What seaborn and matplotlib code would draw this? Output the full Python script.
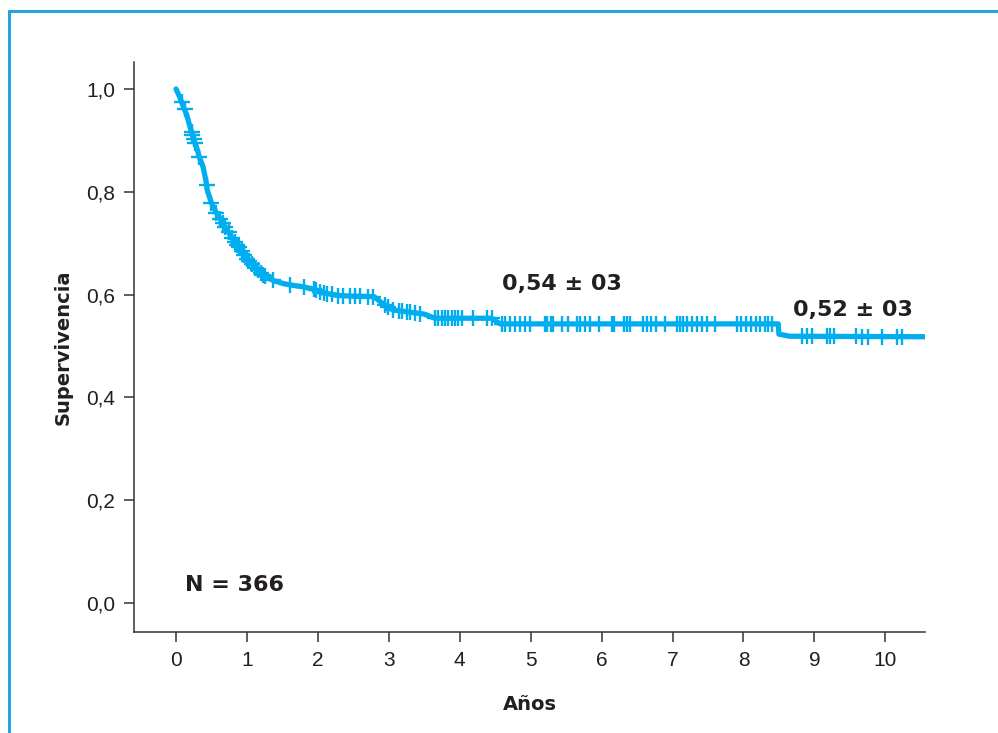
import numpy as np
import pandas as pd
import seaborn as sns
import matplotlib.pyplot as plt
from matplotlib.lines import Line2D

# survival curve (years, survival)
years = [0.00, 0.05, 0.10, 0.15, 0.20, 0.25, 0.30, 0.33, 0.38, 0.42, 0.44,
         0.50, 0.55, 0.60, 0.70, 0.80, 0.90, 1.00, 1.10, 1.20, 1.30, 1.40,
         1.50, 1.60, 1.80, 1.95, 2.05, 2.30, 2.50, 2.79, 2.92, 3.06, 3.40,
         3.50, 3.65, 4.45, 4.57, 8.49, 8.50, 8.65, 10.58]
survival = [1.000, 0.985, 0.967, 0.950, 0.925, 0.902, 0.882, 0.867, 0.849, 0.823, 0.803,
            0.778, 0.764, 0.752, 0.730, 0.708, 0.690, 0.670, 0.655, 0.642, 0.632, 0.626,
            0.622, 0.619, 0.615, 0.610, 0.604, 0.598, 0.597, 0.596, 0.582, 0.570, 0.564,
            0.562, 0.554, 0.554, 0.543, 0.543, 0.523, 0.519, 0.518]

# censored observations (years)
censored = [0.08, 0.12, 0.22, 0.23, 0.25, 0.27, 0.33, 0.43, 0.50, 0.57, 0.62, 0.66,
            0.69, 0.74, 0.79, 0.83, 0.86, 0.89, 0.93, 0.96, 1.00, 1.03, 1.07, 1.12,
            1.16, 1.20, 1.23, 1.26, 1.37, 1.61, 1.80, 1.94, 1.98, 2.03, 2.08, 2.13,
            2.20, 2.29, 2.36, 2.45, 2.52, 2.60, 2.71, 2.78, 2.95, 2.99, 3.06, 3.14,
            3.18, 3.25, 3.30, 3.37, 3.44, 3.65, 3.70, 3.75, 3.79, 3.84, 3.89, 3.94,
            3.98, 4.03, 4.19, 4.38, 4.45, 4.60, 4.64, 4.71, 4.78, 4.85, 4.92, 4.99,
            5.20, 5.23, 5.28, 5.32, 5.44, 5.53, 5.65, 5.70, 5.77, 5.84, 5.96, 6.15,
            6.17, 6.31, 6.36, 6.40, 6.59, 6.64, 6.69, 6.76, 6.90, 7.06, 7.11, 7.15,
            7.20, 7.27, 7.34, 7.41, 7.49, 7.60, 7.91, 7.96, 8.03, 8.10, 8.17, 8.24,
            8.31, 8.35, 8.40, 8.83, 8.90, 8.97, 9.18, 9.22, 9.27, 9.58, 9.67, 9.76,
            9.95, 10.16, 10.24]

x_ticks = [0, 1, 2, 3, 4, 5, 6, 7, 8, 9, 10]
y_ticks = [0.0, 0.2, 0.4, 0.6, 0.8, 1.0]
y_labels = ['0,0', '0,2', '0,4', '0,6', '0,8', '1,0']

blue = '#00aeef'
ink = '#231f20'

sns.set_style('ticks')
plt.rcParams['font.family'] = ['Liberation Sans', 'DejaVu Sans']

fig = plt.figure(figsize=(9.98, 7.33), dpi=100)
ax = fig.add_axes([0.1343, 0.1378, 0.7926, 0.7776])

curve = pd.DataFrame({'Años': years, 'Supervivencia': survival})
sns.lineplot(data=curve, x='Años', y='Supervivencia', sort=False, estimator=None,
             color=blue, linewidth=3.8, ax=ax)

# marks sit on the curve
cens = pd.DataFrame({'t': censored})
cens['s'] = np.interp(cens['t'], years, survival)
sns.scatterplot(data=cens, x='t', y='s', marker='+', s=130, linewidth=1.7,
                color=blue, ax=ax, zorder=3)

ax.set_xlim(-0.592, 10.56)
ax.set_ylim(-0.0564, 1.0525)
ax.set_xticks(x_ticks)
ax.set_yticks(y_ticks)
ax.set_yticklabels(y_labels)
ax.tick_params(axis='both', length=7.5, width=1.1, color='#333333',
               labelsize=15, labelcolor=ink, pad=6)
for side in ['top', 'right']:
    ax.spines[side].set_visible(False)
for side in ['left', 'bottom']:
    ax.spines[side].set_color('#333333')
    ax.spines[side].set_linewidth(1.1)

ax.set_xlabel('Años', fontsize=14, fontweight='bold', family='DejaVu Sans',
              color=ink, labelpad=18)
ax.set_ylabel('Supervivencia', fontsize=14, fontweight='bold', family='DejaVu Sans',
              color=ink, labelpad=10)

ax.text(4.60, 0.621, '0,54 ± 03', fontsize=16, fontweight='bold',
        family='DejaVu Sans', color=ink, va='center')
ax.text(8.70, 0.570, '0,52 ± 03', fontsize=16, fontweight='bold',
        family='DejaVu Sans', color=ink, va='center')
ax.text(0.13, 0.035, 'N = 366', fontsize=16, fontweight='bold',
        family='DejaVu Sans', color=ink, va='center')

# blue frame, open at right and bottom
fig.add_artist(Line2D([0.009, 1.0], [0.985, 0.985], color='#29a3dc', linewidth=2.2))
fig.add_artist(Line2D([0.009, 0.009], [0.0, 0.985], color='#29a3dc', linewidth=2.2))

fig.savefig('out.png', dpi=100)
